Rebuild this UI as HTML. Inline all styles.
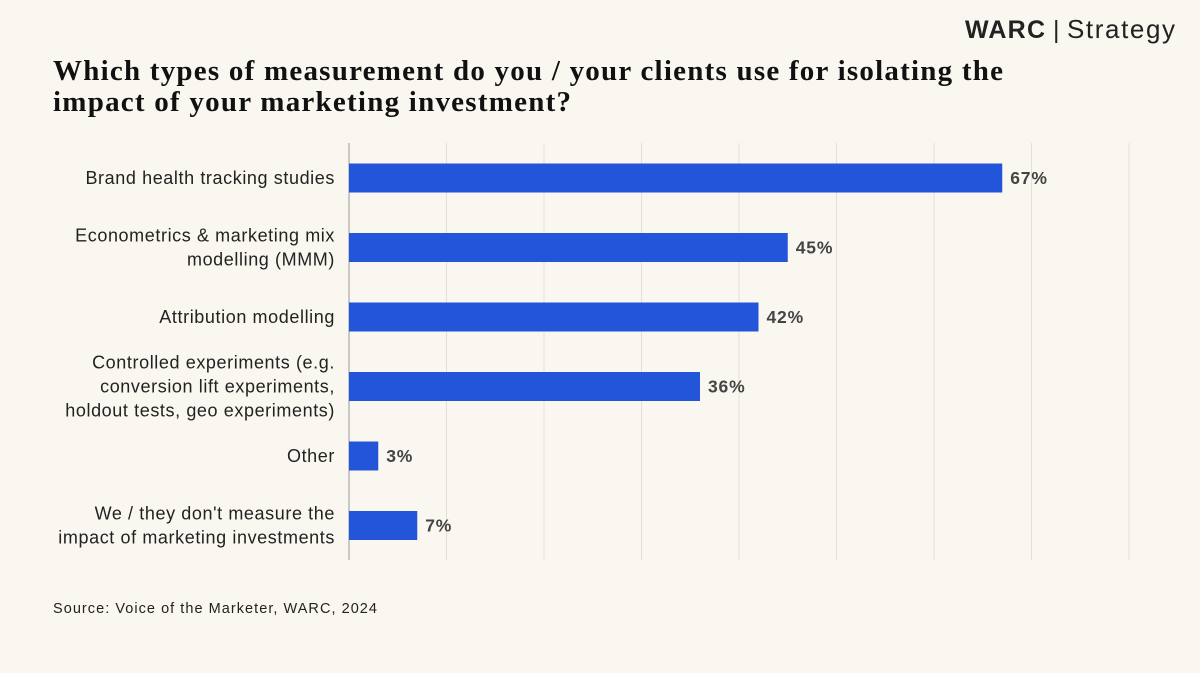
<!DOCTYPE html>
<html><head><meta charset="utf-8">
<style>
body{margin:0;background:#FAF7F0;width:1200px;height:673px;overflow:hidden;font-family:"Liberation Sans",sans-serif;}
svg{display:block}
</style></head>
<body>
<svg width="1200" height="673">
<rect width="1200" height="673" fill="#FAF7F0"/>
<text x="965" y="38" font-size="25" font-weight="bold" fill="#222" textLength="80">WARC</text>
<text x="1053" y="38" font-size="25" fill="#222">|</text>
<text x="1067" y="38" font-size="26" fill="#222" textLength="108">Strategy</text>
<text font-family="Liberation Serif,serif" font-weight="bold" font-size="29" fill="#111">
<tspan x="53" y="80" textLength="950" lengthAdjust="spacing">Which types of measurement do you / your clients use for isolating the</tspan>
<tspan x="53" y="111" textLength="518" lengthAdjust="spacing">impact of your marketing investment?</tspan></text>
<g id="grid"></g>
<g id="bars"></g>
<text x="53" y="613" font-size="14.5" fill="#222" textLength="324">Source: Voice of the Marketer, WARC, 2024</text>
</svg>
<script>
const categories=[["Brand health tracking studies"],["Econometrics & marketing mix","modelling (MMM)"],["Attribution modelling"],["Controlled experiments (e.g.","conversion lift experiments,","holdout tests, geo experiments)"],["Other"],["We / they don't measure the","impact of marketing investments"]];
const values=[67,45,42,36,3,7];
const gridTicks=[0,10,20,30,40,50,60,70,80];
const NS="http://www.w3.org/2000/svg";
const x0=349,pxPer=9.75,top0=143,bot=560,band=69.5,bh=29;
const xs=v=>x0+v*pxPer;
const yc=i=>178+i*band;
function mk(t,a,p){const e=document.createElementNS(NS,t);for(const k in a)e.setAttribute(k,a[k]);p.appendChild(e);return e;}
const g=document.getElementById('grid'),b=document.getElementById('bars');
gridTicks.forEach(t=>{const l=mk('line',{x1:xs(t),x2:xs(t),y1:top0,y2:bot,stroke:t===0?'#999':'#e3e0d9','stroke-width':1},g);

});
values.forEach((v,i)=>{
const r=mk('rect',{x:x0,y:yc(i)-bh/2,width:v*pxPer,height:bh,fill:'#2255D9'},b);


const tv=mk('text',{x:xs(v)+8,y:yc(i)+6,'font-size':17.5,'font-weight':'bold',fill:'#444','letter-spacing':0.8},b);tv.textContent=v+'%';


const lines=categories[i],lh=24,start=yc(i)+6-(lines.length-1)*lh/2;
const tl=mk('text',{'text-anchor':'end','font-size':18,fill:'#222','letter-spacing':0.6},b);


lines.forEach((s,j)=>{const ts=mk('tspan',{x:335,y:start+j*lh},tl);ts.textContent=s;});
});
</script>
</body></html>
